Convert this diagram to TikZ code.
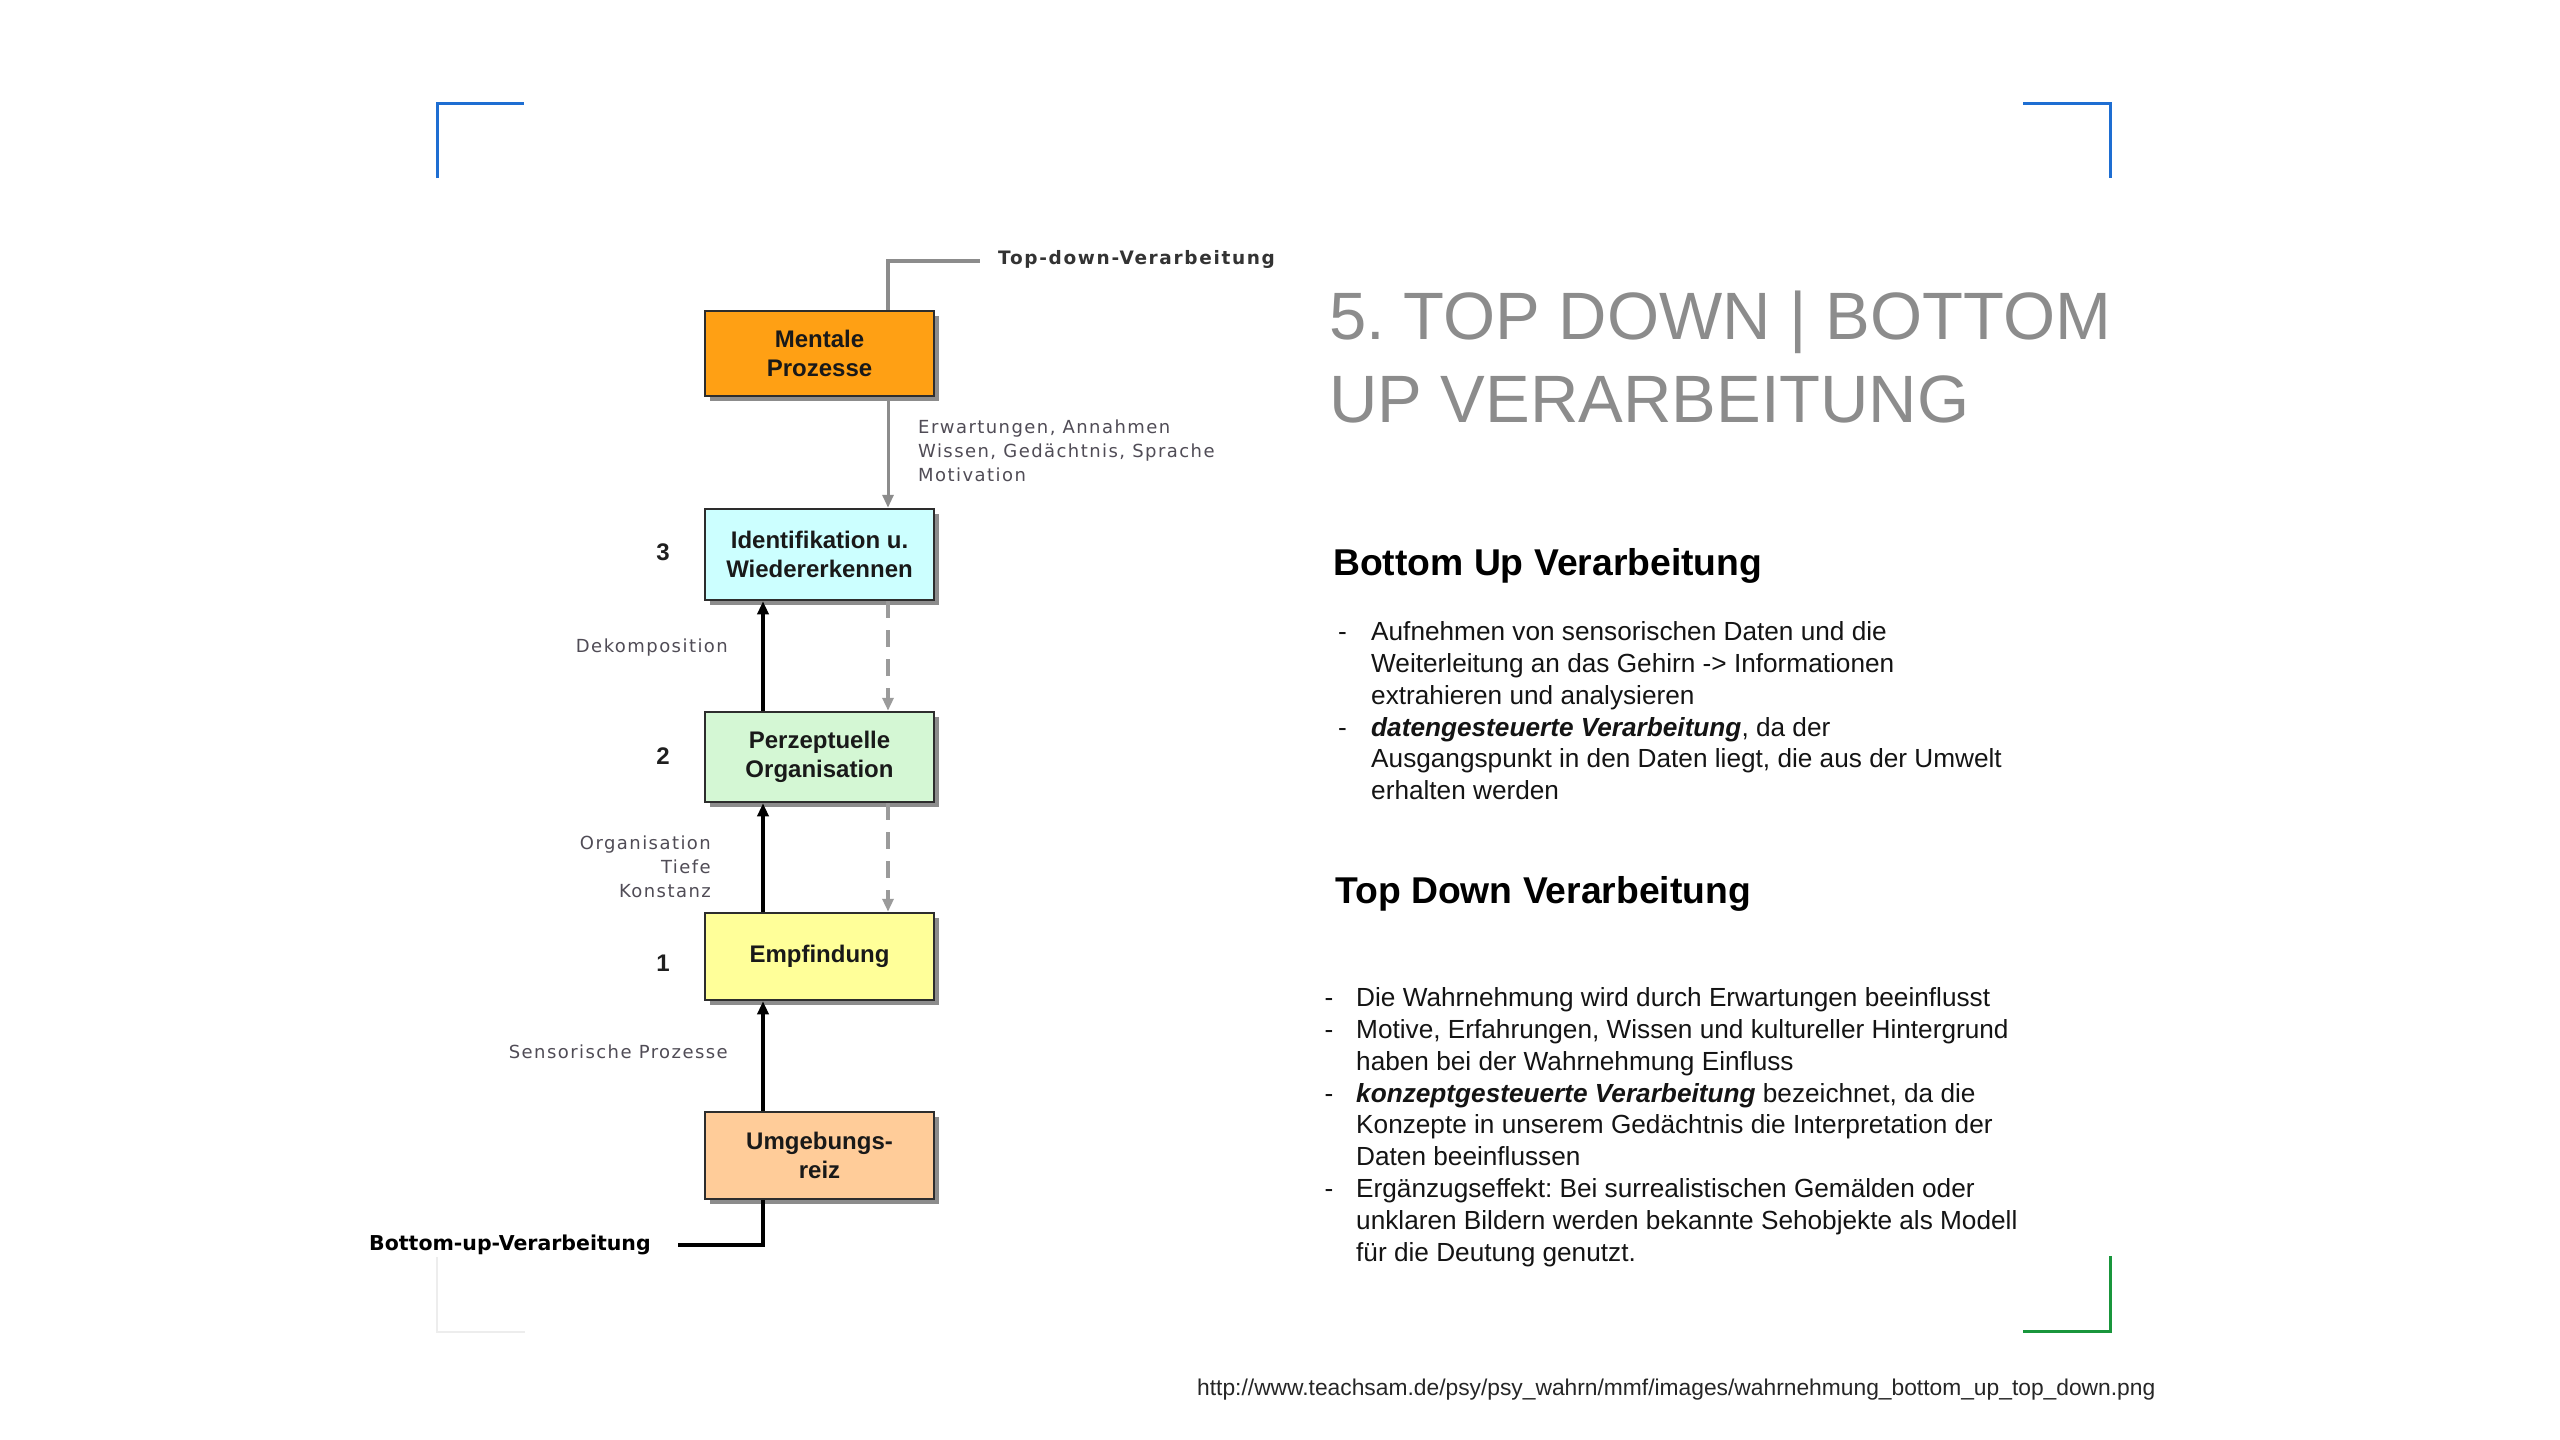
\documentclass[tikz,border=0pt]{standalone}
\usepackage{fontspec}
\setmainfont{Liberation Sans}
\newfontfamily\vfont[LetterSpace=8]{DejaVu Sans}
\newfontfamily\vbfont[LetterSpace=9]{DejaVu Sans}
\newfontfamily\vbfontb{DejaVu Sans}
\usetikzlibrary{arrows.meta,shadows}
\definecolor{cOrange}{RGB}{255,160,20}
\definecolor{cCyan}{RGB}{204,255,255}
\definecolor{cGreen}{RGB}{212,247,212}
\definecolor{cYellow}{RGB}{255,255,153}
\definecolor{cPeach}{RGB}{255,204,153}
\definecolor{boxline}{RGB}{45,45,45}
\definecolor{lineGray}{RGB}{140,140,140}
\definecolor{dashGray}{RGB}{155,155,155}
\definecolor{labelGray}{RGB}{80,76,86}
\definecolor{titleGray}{RGB}{140,140,140}
\definecolor{blueC}{RGB}{30,110,210}
\definecolor{greenC}{RGB}{25,150,60}
\frenchspacing
\begin{document}
\frenchspacing
\begin{tikzpicture}[x=1pt,y=-1pt,
  box/.style={draw=boxline, line width=2.5pt, minimum width=229pt, inner sep=0pt,
    align=center, font=\fontsize{24}{29}\selectfont\bfseries, text=black!90,
    drop shadow={shadow xshift=5pt, shadow yshift=-5pt, fill=black, opacity=0.45}},
  arr/.style={-{Triangle[length=13pt,width=11pt]}},
  grayline/.style={draw=lineGray, line width=3.5pt},
  dashline/.style={draw=dashGray, line width=4pt, dash pattern=on 17pt off 12pt},
  blackline/.style={draw=black, line width=4.5pt},
  sidelabel/.style={inner sep=0pt, text=labelGray, font=\fontsize{18}{24}\selectfont\vfont},
  numlabel/.style={inner sep=0pt, text=black!88, font=\fontsize{24}{29}\selectfont\bfseries},
  flowlabel/.style={inner sep=0pt, font=\fontsize{20.5}{25}\selectfont\vbfontb\bfseries},
  titlestyle/.style={inner sep=0pt, anchor=base west, text=titleGray, font=\fontsize{67}{83}\selectfont},
  headstyle/.style={inner sep=0pt, anchor=base west, text=black, font=\fontsize{37.3}{44}\selectfont\bfseries},
  liststyle/.style={inner sep=0pt, anchor=base west, text=black!92, font=\fontsize{26.2}{31.8}\selectfont\frenchspacing},
  corner/.style={line width=3pt}
]
\useasboundingbox (0,0) rectangle (2560,1440);
\fill[white] (0,0) rectangle (2560,1440);

% corner brackets
\draw[corner, blueC] (437,178) -- (437,103.5) -- (524,103.5);
\draw[corner, blueC] (2023,103.5) -- (2110,103.5) -- (2110,178);
\draw[corner, greenC] (2110,1256) -- (2110,1331.5) -- (2023,1331.5);
\draw[line width=2pt, black!7] (437,1257) -- (437,1331.5) -- (525,1331.5);

% boxes
\node[box, fill=cOrange, minimum height=85pt] (ment) at (819.5,353.5) {Mentale\\Prozesse};
\node[box, fill=cCyan, minimum height=91pt] (ident) at (819.5,554.5) {Identifikation u.\\Wiedererkennen};
\node[box, fill=cGreen, minimum height=90pt] (perz) at (819.5,757) {Perzeptuelle\\Organisation};
\node[box, fill=cYellow, minimum height=87pt] (empf) at (819.5,956.5) {Empfindung};
\node[box, fill=cPeach, minimum height=87pt] (umg) at (819.5,1155.5) {Umgebungs-\\reiz};

% numbers
\node[numlabel] (n3) at (663,552) {3};
\node[numlabel] (n2) at (663,756) {2};
\node[numlabel] (n1) at (663,963) {1};

% connectors
\coordinate (tdEnd) at (980,261);
\draw[grayline] ([xshift=68.5pt]ment.north) |- (tdEnd);
\draw[grayline, line width=3pt, arr] ([xshift=68.5pt]ment.south) -- ([xshift=68.5pt]ident.north);
\draw[dashline, arr] ([xshift=68.5pt]ident.south) -- ([xshift=68.5pt]perz.north);
\draw[dashline, arr] ([xshift=68.5pt]perz.south) -- ([xshift=68.5pt]empf.north);
\draw[blackline, arr] ([xshift=-56.5pt]perz.north) -- ([xshift=-56.5pt]ident.south);
\draw[blackline, arr] ([xshift=-56.5pt]empf.north) -- ([xshift=-56.5pt]perz.south);
\draw[blackline, arr] ([xshift=-56.5pt]umg.north) -- ([xshift=-56.5pt]empf.south);
\coordinate (buEnd) at (678,1245);
\draw[blackline] ([xshift=-56.5pt]umg.south) |- (buEnd);

% flow labels
\node[flowlabel, anchor=base west, text=black!80, font=\fontsize{18.5}{24}\selectfont\vbfont\bfseries] (tdlab) at (998,264) {Top-down-Verarbeitung};
\node[flowlabel, anchor=base west, text=black] (bulab) at (369,1250) {Bottom-up-Verarbeitung};

% side labels
\node[sidelabel, anchor=base west] (erw) at (918,433.5) {\begin{tabular}[t]{@{}l@{}}Erwartungen, Annahmen\\Wissen, Gedächtnis, Sprache\\Motivation\end{tabular}};
\node[sidelabel, anchor=base east] (dek) at (728,652.7) {Dekomposition};
\node[sidelabel, anchor=base east] (org) at (711,849.3) {\begin{tabular}[t]{@{}r@{}}Organisation\\Tiefe\\Konstanz\end{tabular}};
\node[sidelabel, anchor=base east] (sens) at (728,1058.3) {Sensorische Prozesse};

% right side text
\node[titlestyle] (t1) at (1329,339) {5. TOP DOWN | BOTTOM};
\node[titlestyle] (t2) at (1329,422) {UP VERARBEITUNG};

\node[headstyle] (h1) at (1333,575) {Bottom Up Verarbeitung};
\node[liststyle] (l1) at (1338,640.7) {\begin{tabular}[t]{@{}l@{}}
\makebox[33pt][l]{-}Aufnehmen von sensorischen Daten und die\\
\makebox[33pt][l]{}Weiterleitung an das Gehirn -> Informationen\\
\makebox[33pt][l]{}extrahieren und analysieren\\
\makebox[33pt][l]{-}\textbf{\textit{datengesteuerte Verarbeitung}}, da der\\
\makebox[33pt][l]{}Ausgangspunkt in den Daten liegt, die aus der Umwelt\\
\makebox[33pt][l]{}erhalten werden
\end{tabular}};

\node[headstyle] (h2) at (1335,903) {Top Down Verarbeitung};
\node[liststyle] (l2) at (1324.5,1006.7) {\begin{tabular}[t]{@{}l@{}}
\makebox[31.5pt][l]{-}Die Wahrnehmung wird durch Erwartungen beeinflusst\\
\makebox[31.5pt][l]{-}Motive, Erfahrungen, Wissen und kultureller Hintergrund\\
\makebox[31.5pt][l]{}haben bei der Wahrnehmung Einfluss\\
\makebox[31.5pt][l]{-}\textbf{\textit{konzeptgesteuerte Verarbeitung}} bezeichnet, da die\\
\makebox[31.5pt][l]{}Konzepte in unserem Gedächtnis die Interpretation der\\
\makebox[31.5pt][l]{}Daten beeinflussen\\
\makebox[31.5pt][l]{-}Ergänzugseffekt: Bei surrealistischen Gemälden oder\\
\makebox[31.5pt][l]{}unklaren Bildern werden bekannte Sehobjekte als Modell\\
\makebox[31.5pt][l]{}für die Deutung genutzt.
\end{tabular}};

\node[inner sep=0pt, anchor=base west, text=black!85, font=\fontsize{22.8}{27}\selectfont] (src) at (1197,1395) {http://www.teachsam.de/psy/psy\_wahrn/mmf/images/wahrnehmung\_bottom\_up\_top\_down.png};
\end{tikzpicture}
\end{document}
